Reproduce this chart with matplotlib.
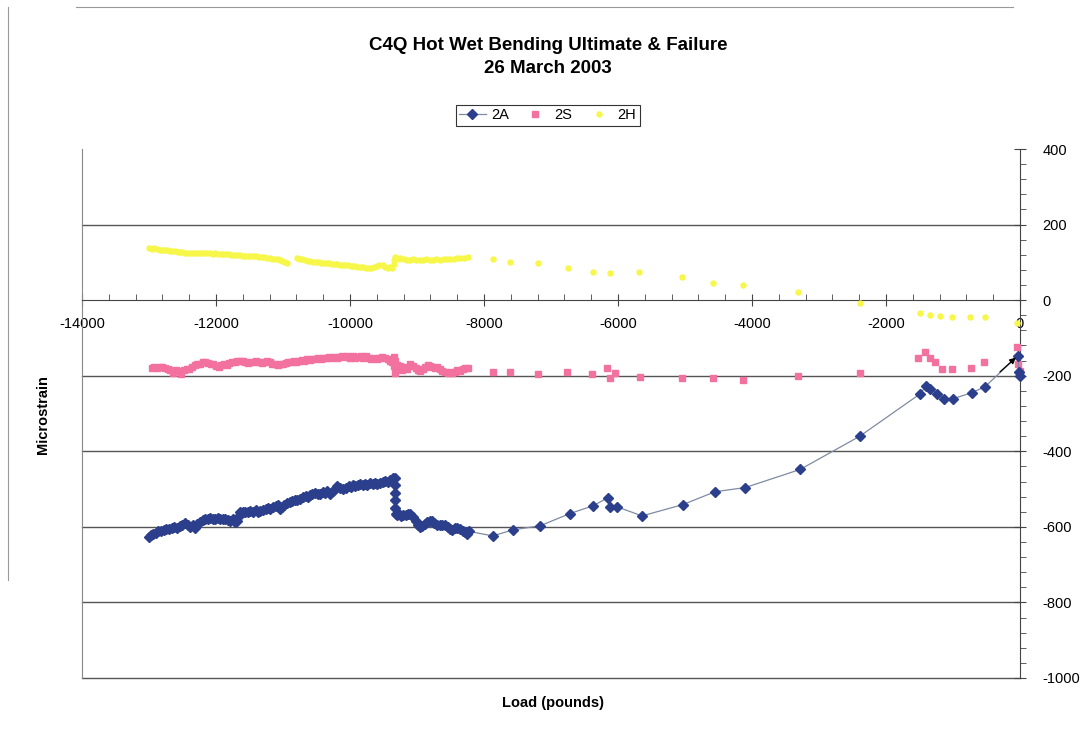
import matplotlib
matplotlib.use("Agg")
import matplotlib.pyplot as plt
from matplotlib.lines import Line2D
from matplotlib.ticker import MultipleLocator

plt.rcParams['font.family'] = ['Liberation Sans', 'DejaVu Sans']
plt.rcParams['axes.unicode_minus'] = False

# 2A strain gauge (load in pounds, microstrain)
load_2a = [-13000, -12970, -12940, -12900, -12860, -12820, -12780, -12740, -12700, -12660,
           -12620, -12580, -12540, -12500, -12460, -12420, -12390, -12350, -12310, -12280,
           -12240, -12200, -12160, -12120, -12090, -12050, -12010, -11970, -11940, -11900,
           -11860, -11820, -11790, -11750, -11720, -11690, -11660, -11640, -11600, -11560,
           -11520, -11490, -11450, -11410, -11370, -11340, -11300, -11260, -11220, -11190,
           -11150, -11110, -11075, -11045, -11010, -10980, -10940, -10900, -10860, -10820,
           -10790, -10750, -10700, -10660, -10630, -10600, -10560, -10520, -10480, -10450,
           -10410, -10370, -10340, -10300, -10260, -10230, -10190, -10150, -10100, -10060,
           -10020, -9990, -9955, -9920, -9880, -9850, -9810, -9770, -9740, -9700,
           -9660, -9620, -9590, -9550, -9510, -9470, -9440, -9400, -9360, -9330,
           -9330, -9330, -9330, -9325, -9320, -9300, -9270, -9240, -9210, -9170,
           -9140, -9100, -9060, -9020, -8990, -8955, -8920, -8880, -8850, -8810,
           -8780, -8740, -8700, -8660, -8620, -8580, -8540, -8510, -8480, -8440,
           -8400, -8360, -8320, -8280, -8250, -8220, -7870, -7570, -7160, -6720,
           -6370, -6150, -6120, -6015, -5640, -5030, -4550, -4100, -3280, -2390,
           -1490, -1400, -1340, -1240, -1130, -1000, -720, -520, -30, -20, 0]
strain_2a = [-627, -622, -618, -615, -612, -610, -608, -606, -606, -603,
             -600, -604, -598, -595, -590, -596, -600, -596, -603, -592,
             -586, -582, -580, -578, -576, -580, -578, -576, -579, -580,
             -578, -582, -584, -580, -586, -584, -570, -560, -562, -560,
             -562, -558, -560, -556, -560, -558, -555, -552, -550, -552,
             -548, -545, -541, -552, -548, -542, -538, -535, -532, -530,
             -528, -525, -520, -518, -522, -515, -512, -510, -514, -512,
             -508, -510, -506, -512, -505, -500, -493, -497, -501, -497,
             -492, -495, -488, -492, -488, -486, -490, -486, -488, -484,
             -487, -483, -486, -483, -480, -478, -480, -475, -472, -470,
             -490, -510, -530, -550, -565, -568, -565, -570, -568, -568,
             -566, -565, -573, -585, -595, -600, -597, -592, -588, -585,
             -584, -590, -595, -596, -596, -595, -600, -605, -608, -604,
             -602, -606, -612, -613, -619, -612, -624, -608, -597, -565,
             -544, -523, -547, -547, -571, -541, -507, -496, -448, -360,
             -248, -227, -235, -248, -261, -261, -245, -229, -147, -190, -200]

# 2S
load_2s = [-12960, -12920, -12880, -12840, -12800, -12760, -12720, -12680, -12640, -12600,
           -12560, -12520, -12480, -12440, -12400, -12360, -12320, -12280, -12240, -12200,
           -12160, -12120, -12080, -12045, -12000, -11960, -11920, -11880, -11840, -11800,
           -11760, -11720, -11680, -11640, -11600, -11560, -11520, -11480, -11440, -11400,
           -11360, -11320, -11280, -11240, -11200, -11160, -11120, -11080, -11040, -11000,
           -10960, -10920, -10880, -10840, -10800, -10760, -10720, -10680, -10640, -10600,
           -10560, -10520, -10480, -10440, -10400, -10360, -10320, -10280, -10240, -10200,
           -10160, -10120, -10080, -10040, -10000, -9960, -9920, -9880, -9840, -9800,
           -9760, -9720, -9680, -9640, -9600, -9560, -9520, -9480, -9440, -9400,
           -9370, -9350, -9340, -9330, -9330, -9300, -9270, -9250, -9220, -9190,
           -9150, -9110, -9060, -9020, -8990, -8950, -8910, -8880, -8840, -8810,
           -8770, -8730, -8700, -8660, -8620, -8580, -8540, -8510, -8480, -8440,
           -8400, -8360, -8320, -8280, -8240, -7870, -7610, -7190, -6760, -6390,
           -6160, -6120, -6045, -5670, -5045, -4580, -4130, -3310, -2390, -1520,
           -1420, -1340, -1270, -1160, -1015, -730, -540, -45, -30, 0]
strain_2s = [-180, -178, -180, -177, -176, -180, -183, -186, -192, -185,
             -188, -195, -186, -183, -181, -176, -172, -168, -170, -165,
             -163, -166, -170, -168, -174, -176, -172, -170, -171, -166,
             -164, -163, -162, -160, -161, -165, -166, -163, -165, -162,
             -163, -166, -164, -162, -165, -168, -170, -171, -168, -170,
             -166, -163, -165, -162, -163, -160, -158, -160, -157, -158,
             -155, -156, -154, -155, -152, -153, -151, -152, -150, -152,
             -150, -148, -150, -149, -152, -148, -152, -150, -149, -152,
             -149, -152, -155, -153, -155, -152, -150, -152, -155, -160,
             -165, -150, -175, -192, -160, -172, -178, -173, -185, -176,
             -181, -170, -173, -180, -185, -187, -182, -176, -172, -173,
             -178, -180, -176, -181, -188, -190, -193, -189, -192, -190,
             -185, -187, -182, -180, -179, -189, -189, -195, -189, -195,
             -179, -205, -192, -203, -205, -205, -211, -200, -192, -152,
             -136, -152, -165, -181, -181, -179, -165, -125, -168, -187]

# 2H
load_2h = [-13000, -12960, -12920, -12880, -12840, -12800, -12760, -12730, -12690, -12650,
           -12610, -12570, -12540, -12500, -12460, -12420, -12380, -12340, -12300, -12260,
           -12220, -12180, -12130, -12090, -12050, -12010, -11970, -11930, -11890, -11850,
           -11810, -11770, -11730, -11690, -11640, -11600, -11560, -11520, -11480, -11440,
           -11400, -11360, -11320, -11280, -11240, -11200, -11160, -11120, -11080, -11045,
           -11010, -10970, -10940, -10790, -10750, -10710, -10670, -10630, -10590, -10550,
           -10510, -10470, -10430, -10390, -10350, -10310, -10270, -10230, -10190, -10150,
           -10110, -10070, -10030, -9990, -9960, -9920, -9880, -9840, -9800, -9760,
           -9720, -9680, -9640, -9600, -9560, -9510, -9470, -9430, -9400, -9370,
           -9350, -9340, -9330, -9300, -9270, -9250, -9200, -9150, -9100, -9060,
           -9010, -8960, -8910, -8860, -8810, -8760, -8710, -8650, -8600, -8550,
           -8500, -8450, -8400, -8360, -8300, -8240, -7870, -7610, -7190, -6750,
           -6370, -6120, -5690, -5045, -4580, -4130, -3310, -2390, -1490, -1340,
           -1190, -1015, -750, -520, -45]
strain_2h = [139, 136, 138, 135, 134, 133, 133, 133, 131, 130,
             130, 128, 128, 127, 126, 126, 125, 125, 124, 125,
             124, 125, 125, 124, 123, 125, 123, 122, 122, 121,
             121, 120, 120, 120, 120, 118, 118, 117, 117, 116,
             116, 115, 114, 113, 112, 111, 110, 109, 108, 107,
             104, 100, 99, 112, 110, 108, 106, 104, 103, 101,
             101, 100, 99, 99, 98, 97, 96, 96, 95, 94,
             93, 92, 92, 91, 91, 90, 88, 87, 88, 86,
             85, 84, 89, 90, 92, 93, 88, 86, 87, 85,
             95, 105, 115, 112, 110, 112, 108, 107, 106, 108,
             107, 107, 106, 108, 107, 107, 108, 107, 109, 109,
             110, 110, 111, 112, 112, 115, 109, 101, 99, 85,
             75, 72, 75, 61, 45, 40, 21, -8, -35, -40,
             -43, -45, -45, -45, -61]

grid_levels = [200, -200, -400, -600, -800, -1000]

fig = plt.figure(figsize=(10.89, 7.34), dpi=100)
ax = fig.add_axes([0.0753, 0.0763, 0.8613, 0.7207])

for g in grid_levels:
    ax.axhline(g, color='#555555', lw=1.0, zorder=1, clip_on=False)

ax.plot(load_2a, strain_2a, color='#7f8aa3', lw=0.9, marker='D', ms=5.2,
        mfc='#2b3f8c', mec='#2b3f8c', label='2A', zorder=4, clip_on=False)
ax.plot(load_2s, strain_2s, ls='none', marker='s', ms=5, mfc='#f2719f',
        mec='#f2719f', label='2S', zorder=3, clip_on=False)
ax.plot(load_2h, strain_2h, ls='none', marker='o', ms=3.6, mfc='#f7f74a',
        mec='#f7f74a', label='2H', zorder=3, clip_on=False)

ax.annotate('', xy=(-30, -147), xytext=(-330, -195),
            arrowprops=dict(arrowstyle='-|>', color='black', lw=0.9,
                            mutation_scale=9), zorder=5)

ax.set_xlim(-14000, 0)
ax.set_ylim(-1000, 400)

ax.spines['top'].set_visible(False)
ax.spines['bottom'].set_position(('data', 0))
ax.spines['bottom'].set_color('#444444')
ax.spines['left'].set_color('#888888')
ax.spines['left'].set_linewidth(0.8)
ax.spines['right'].set_color('#444444')

ax.xaxis.set_major_locator(MultipleLocator(2000))
ax.xaxis.set_minor_locator(MultipleLocator(400))
ax.yaxis.set_major_locator(MultipleLocator(200))
ax.yaxis.set_minor_locator(MultipleLocator(40))
ax.yaxis.tick_right()
ax.tick_params(axis='x', which='major', direction='inout', length=8,
               color='#444444', labelsize=10.5, pad=8)
ax.tick_params(axis='x', which='minor', direction='in', length=4, color='#444444')
ax.tick_params(axis='y', which='major', direction='inout', length=8,
               color='#444444', labelsize=10.5, pad=12)
ax.tick_params(axis='y', which='minor', direction='out', length=4, color='#444444')

fig.text(0.503, 0.938, 'C4Q Hot Wet Bending Ultimate & Failure', ha='center',
         va='center', fontsize=13.5, fontweight='bold')
fig.text(0.503, 0.906, '26 March 2003', ha='center', va='center',
         fontsize=13.5, fontweight='bold')
fig.text(0.508, 0.042, 'Load (pounds)', ha='center', va='center',
         fontsize=10.5, fontweight='bold')
fig.text(0.0395, 0.4346, 'Microstrain', ha='center', va='center',
         rotation=90, fontsize=10.5, fontweight='bold')

leg = fig.legend(loc='center', bbox_to_anchor=(0.503, 0.843), ncol=3,
                 frameon=True, fancybox=False, edgecolor='black',
                 fontsize=10.5, handlelength=1.8, columnspacing=0.9,
                 borderpad=0.25, handletextpad=0.4)
leg.get_frame().set_linewidth(0.8)

# faint scanned chart-area border (top and left)
fig.add_artist(Line2D([0.07, 0.93], [0.99, 0.99], transform=fig.transFigure,
                      color='#999999', lw=0.8))
fig.add_artist(Line2D([0.007, 0.007], [0.21, 0.99], transform=fig.transFigure,
                      color='#999999', lw=0.8))

fig.savefig('out.png', dpi=100)
